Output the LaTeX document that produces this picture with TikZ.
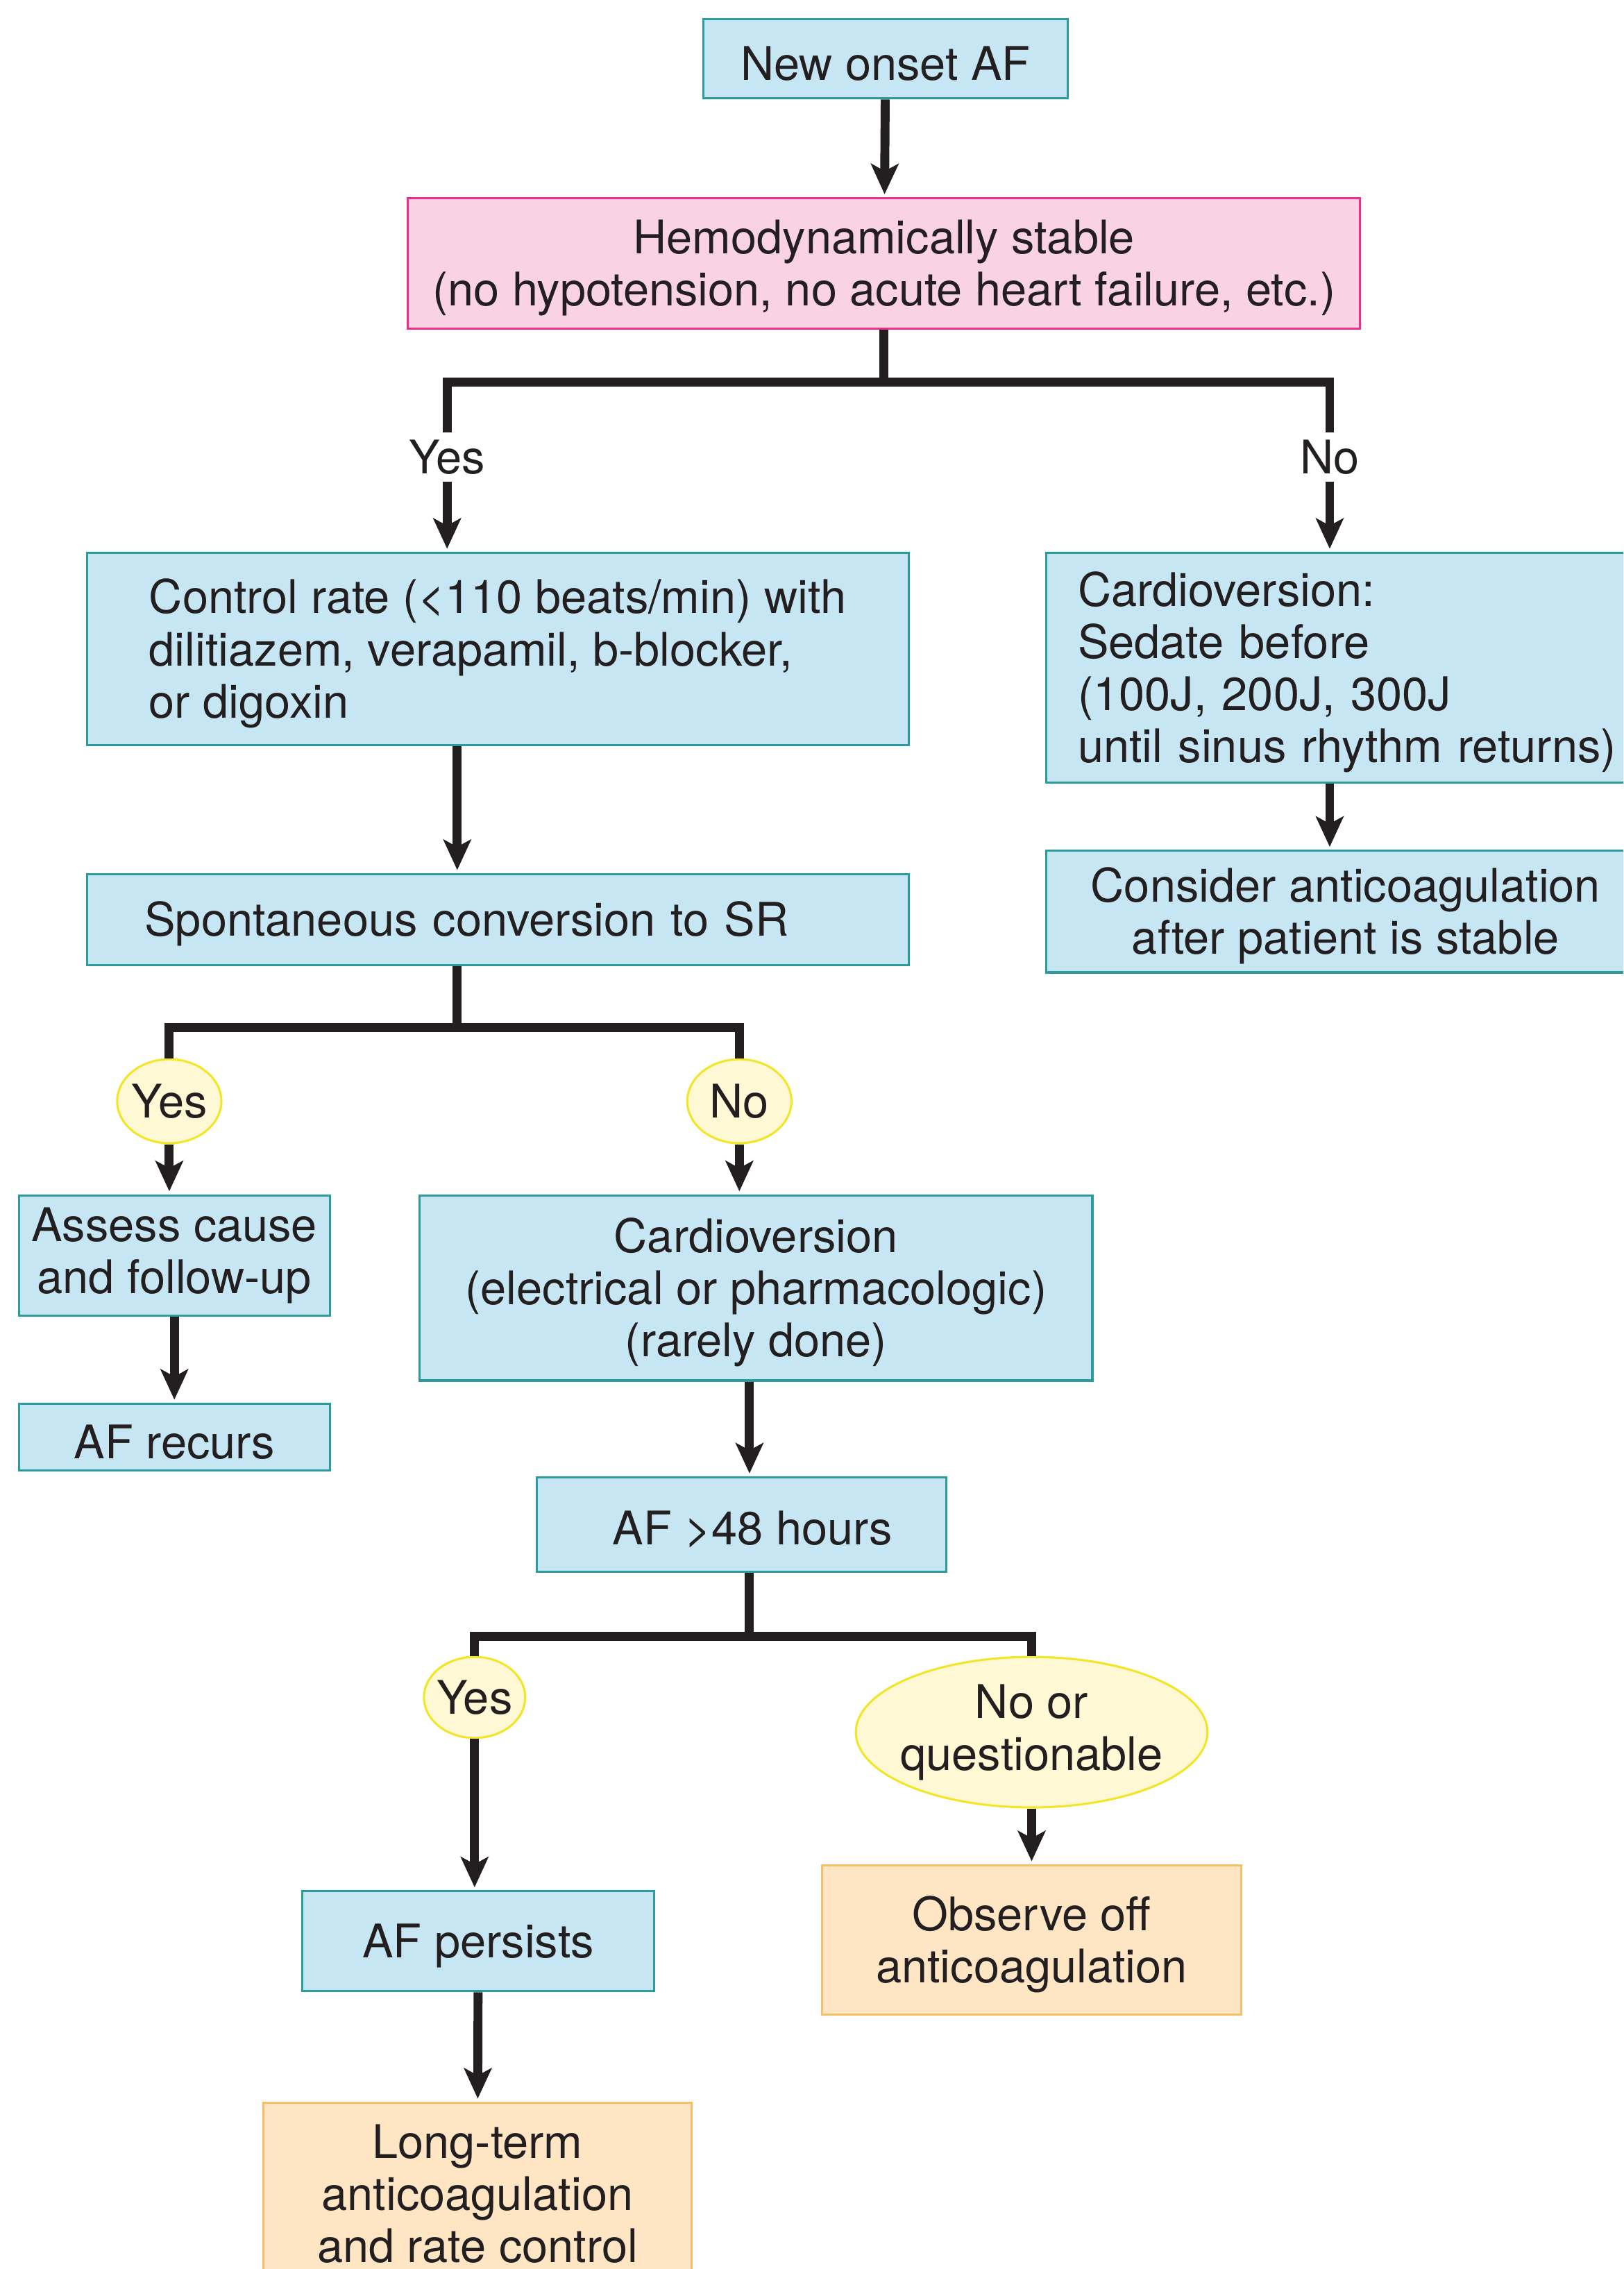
\documentclass[tikz,border=0pt]{standalone}
\usepackage{fontspec}
\setmainfont{TeX Gyre Heros}
\usetikzlibrary{shapes.geometric,arrows.meta}

\definecolor{boxfill}{HTML}{C5E6F2}
\definecolor{boxline}{HTML}{2B9B9B}
\definecolor{pinkfill}{HTML}{F9D2E4}
\definecolor{pinkline}{HTML}{EC2E8C}
\definecolor{ansfill}{HTML}{FFF8D4}
\definecolor{ansline}{HTML}{F2E62A}
\definecolor{endfill}{HTML}{FEE6C5}
\definecolor{endline}{HTML}{F8BF6B}
\definecolor{ink}{HTML}{231F20}
\newcommand{\lift}{\rule{0pt}{30pt}}

\begin{document}
\begin{tikzpicture}[x=1pt,y=1pt]
\tikzstyle{every node}+=[inner sep=0pt,text=ink,font=\fontsize{32}{36}\selectfont]
\tikzstyle{bluebox}=[draw=boxline,fill=boxfill,line width=1.5pt,align=center,execute at begin node={\lift}]
\tikzstyle{pinkbox}=[bluebox,draw=pinkline,fill=pinkfill]
\tikzstyle{endbox}=[bluebox,draw=endline,fill=endfill]
\tikzstyle{answer}=[ellipse,draw=ansline,fill=ansfill,line width=1.5pt,align=center,inner xsep=-6pt]
\tikzstyle{tag}=[inner ysep=5pt]
\tikzstyle{link}=[draw=ink,line width=6.2pt]
\tikzstyle{arrow}=[link,shorten >=2pt,-{Stealth[length=21pt,width=19pt,inset=5pt]}]
\clip (0,0) rectangle (1122,-1568);
% boxes
\node[bluebox,minimum width=252pt,minimum height=55pt] (onset) at (612,-40.5) {New onset AF};
\node[pinkbox,minimum width=658pt,minimum height=90pt] (stable) at (611,-182) {\lift Hemodynamically stable\\(no hypotension, no acute heart failure, etc.)};
\node[tag] (yes1) at (309,-316) {Yes};
\node[tag] (no1) at (919,-316) {No};
\node[bluebox,minimum width=568pt,minimum height=133pt,align=left] (rate) at (344,-448.5) {\lift Control rate (<110 beats/min) with\\dilitiazem, verapamil, b-blocker,\\or digoxin};
\node[bluebox,minimum width=434pt,minimum height=159pt,text width=390pt,align=left] (cardio) at (940,-461.5) {Cardioversion:\\Sedate before\\(100J, 200J, 300J\\until sinus rhythm returns)};
\node[bluebox,minimum width=414pt,minimum height=84pt] (consider) at (930,-630) {\lift Consider anticoagulation\\after patient is stable};
\node[bluebox,minimum width=568pt,minimum height=63pt,text width=488pt,align=left] (spont) at (344,-635.5) {Spontaneous conversion to SR};
\node[answer,minimum width=72pt,minimum height=58pt] (yes2) at (117,-761) {Yes};
\node[answer,minimum width=72pt,minimum height=58pt] (no2) at (511,-761) {No};
\node[bluebox,minimum width=215pt,minimum height=83pt] (assess) at (120.5,-867.5) {Assess cause\\and follow-up};
\node[bluebox,minimum width=215pt,minimum height=46pt] (recurs) at (120.5,-993) {AF recurs};
\node[bluebox,minimum width=465pt,minimum height=128pt] (elec) at (522.5,-890) {\lift Cardioversion\\(electrical or pharmacologic)\\(rarely done)};
\node[bluebox,minimum width=283pt,minimum height=65pt] (hours) at (512.5,-1053.5) {\hspace*{15pt}AF >48 hours};
\node[answer,minimum width=70pt,minimum height=56pt] (yes3) at (328,-1173) {Yes};
\node[answer,minimum width=243pt,minimum height=104pt,inner xsep=-8pt] (unsure) at (713,-1197) {No or\\questionable};
\node[bluebox,minimum width=243pt,minimum height=69pt] (persists) at (330.5,-1341.5) {AF persists};
\node[endbox,minimum width=290pt,minimum height=103pt] (observe) at (713,-1340.5) {\lift Observe off\\anticoagulation};
\node[endbox,minimum width=296pt,minimum height=126pt] (longterm) at (330,-1516) {Long-term\\anticoagulation\\and rate control};
% branch points
\coordinate (split1) at (611,-264);
\coordinate (split2) at (316,-710);
\coordinate (split3) at (518,-1131);
% connectors
\draw[arrow] (onset) -- (stable);
\draw[link] (stable.south) -- (split1);
\draw[link] (yes1.north) |- (split1) -| (no1.north);
\draw[arrow] (yes1.south) -- (yes1 |- rate.north);
\draw[arrow] (no1.south) -- (no1 |- cardio.north);
\draw[arrow] (no1 |- cardio.south) -- (no1 |- consider.north);
\draw[arrow] (split2 |- rate.south) -- (split2 |- spont.north);
\draw[link] (split2 |- spont.south) -- (split2);
\draw[link] (yes2.north) |- (split2) -| (no2.north);
\draw[arrow] (yes2.south) -- (yes2 |- assess.north);
\draw[arrow] (no2.south) -- (no2 |- elec.north);
\draw[arrow] (assess) -- (recurs);
\draw[arrow] (split3 |- elec.south) -- (split3 |- hours.north);
\draw[link] (split3 |- hours.south) -- (split3);
\draw[link] (yes3.north) |- (split3) -| (unsure.north);
\draw[arrow] (yes3.south) -- (yes3 |- persists.north);
\draw[arrow] (unsure) -- (observe);
\draw[arrow] (persists) -- (longterm);
\end{tikzpicture}
\end{document}
